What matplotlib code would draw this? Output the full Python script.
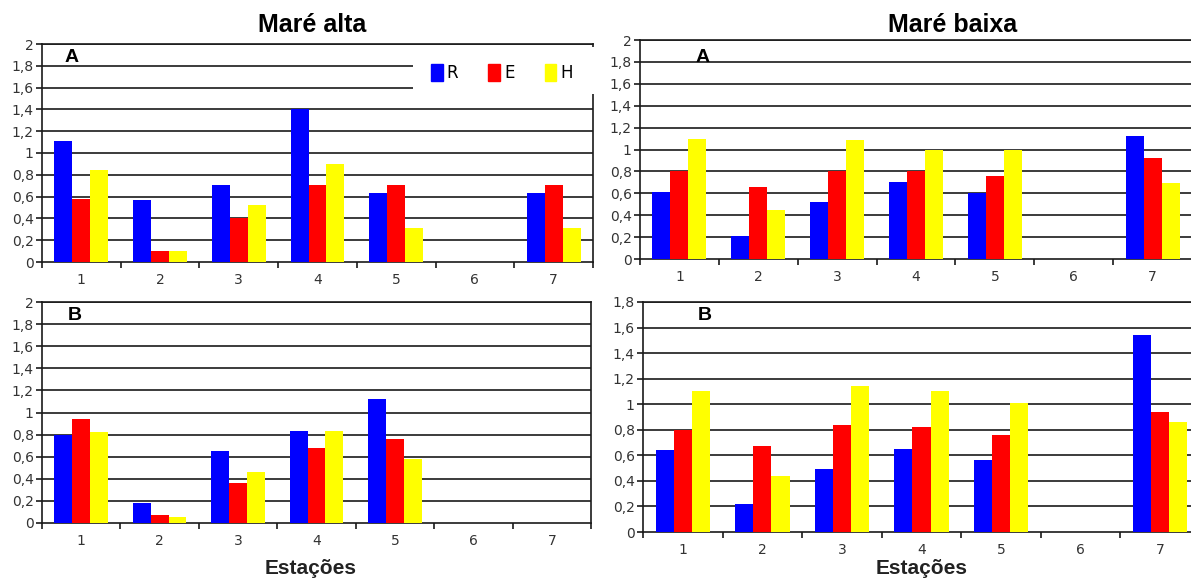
import matplotlib.pyplot as plt
import matplotlib.patches as mpatches
from matplotlib.ticker import FuncFormatter, FixedLocator
import numpy as np

# estações 1..7
stations = [1, 2, 3, 4, 5, 6, 7]
series = ["R", "E", "H"]
colors = ["#0000ff", "#ff0000", "#ffff00"]

# Maré alta - A
alta_a_R = [1.11, 0.57, 0.71, 1.40, 0.63, 0, 0.63]
alta_a_E = [0.58, 0.10, 0.40, 0.71, 0.71, 0, 0.71]
alta_a_H = [0.84, 0.10, 0.52, 0.90, 0.31, 0, 0.31]

# Maré alta - B
alta_b_R = [0.80, 0.18, 0.65, 0.83, 1.12, 0, 0]
alta_b_E = [0.94, 0.07, 0.36, 0.68, 0.76, 0, 0]
alta_b_H = [0.82, 0.05, 0.46, 0.83, 0.58, 0, 0]

# Maré baixa - A
baixa_a_R = [0.61, 0.21, 0.52, 0.70, 0.60, 0, 1.12]
baixa_a_E = [0.80, 0.66, 0.80, 0.80, 0.76, 0, 0.92]
baixa_a_H = [1.10, 0.45, 1.09, 1.00, 1.00, 0, 0.69]

# Maré baixa - B
baixa_b_R = [0.64, 0.22, 0.49, 0.65, 0.56, 0, 1.54]
baixa_b_E = [0.80, 0.67, 0.84, 0.82, 0.76, 0, 0.94]
baixa_b_H = [1.10, 0.44, 1.14, 1.10, 1.01, 0, 0.86]

W, H = 1191, 580
fig = plt.figure(figsize=(W / 100, H / 100), dpi=100)


def box(left, right, top, bottom):
    # pixel box -> figure fraction
    return [left / W, 1 - bottom / H, (right - left) / W, (bottom - top) / H]


comma = FuncFormatter(lambda v, p: f"{v:g}".replace(".", ","))


def panel(rect, data, ymax, letter, letter_xy, right_spine=True):
    ax = fig.add_axes(rect)
    x = np.array(stations)
    bw = 0.228
    for i, (vals, c) in enumerate(zip(data, colors)):
        ax.bar(x + (i - 1) * bw, vals, bw, color=c, linewidth=0, zorder=3)
    ax.set_xlim(0.5, 7.5)
    ax.set_ylim(0, ymax)
    yt = np.round(np.arange(0, ymax + 0.01, 0.2), 1)
    ax.set_yticks(yt)
    ax.yaxis.set_major_formatter(comma)
    for v in yt[1:]:
        ax.axhline(v, color="#1a1a1a", lw=1.2, zorder=2)
    ax.set_xticks(stations)
    ax.xaxis.set_minor_locator(FixedLocator(np.arange(0.5, 8, 1)))
    ax.tick_params(axis="x", which="major", length=0, pad=8, labelsize=10, labelcolor="#333333")
    ax.tick_params(axis="x", which="minor", length=4, width=1.2, color="#1a1a1a")
    ax.tick_params(axis="y", length=4, width=1.2, color="#1a1a1a", pad=2, labelsize=10, labelcolor="#333333")
    for s in ["left", "bottom", "top", "right"]:
        ax.spines[s].set_color("#1a1a1a")
        ax.spines[s].set_linewidth(1.2)
    ax.spines["right"].set_visible(right_spine)
    ax.text(letter_xy[0] / W, 1 - letter_xy[1] / H, letter, transform=fig.transFigure,
            fontsize=14, fontweight="bold", family="Liberation Sans", ha="center", va="center")
    return ax


panel(box(42, 593, 44, 262), [alta_a_R, alta_a_E, alta_a_H], 2, "A", (72, 57))
panel(box(640, 1192, 40, 259), [baixa_a_R, baixa_a_E, baixa_a_H], 2, "A", (703, 57), right_spine=False)
panel(box(42, 591, 302, 523), [alta_b_R, alta_b_E, alta_b_H], 2, "B", (75, 316))
panel(box(643, 1200, 302, 532), [baixa_b_R, baixa_b_E, baixa_b_H], 1.8, "B", (705, 316), right_spine=False)

# white box behind the legend, covering the grid of the upper left panel
fig.add_artist(mpatches.Rectangle((413 / W, 1 - 94 / H), 190 / W, 47 / H,
                                  transform=fig.transFigure, facecolor="white",
                                  edgecolor="none", zorder=5))
handles = [mpatches.Patch(color=c, label=s) for s, c in zip(series, colors)]
leg = fig.legend(handles=handles, ncol=3, loc="center", bbox_to_anchor=(502 / W, 1 - 73 / H),
                 frameon=False, fontsize=12, handlelength=0.7, handleheight=1.2,
                 handletextpad=0.25, columnspacing=1.8)
leg.set_zorder(6)

fig.text(312 / W, 1 - 25 / H, "Maré alta", ha="center", va="center",
         fontsize=18, fontweight="bold", family="Liberation Sans")
fig.text(953 / W, 1 - 25 / H, "Maré baixa", ha="center", va="center",
         fontsize=18, fontweight="bold", family="Liberation Sans")
fig.text(311 / W, 1 - 569 / H, "Estações", ha="center", va="center",
         fontsize=15, fontweight="bold", family="Liberation Sans", color="#222222")
fig.text(922 / W, 1 - 569 / H, "Estações", ha="center", va="center",
         fontsize=15, fontweight="bold", family="Liberation Sans", color="#222222")

fig.savefig("out.png", dpi=100)
